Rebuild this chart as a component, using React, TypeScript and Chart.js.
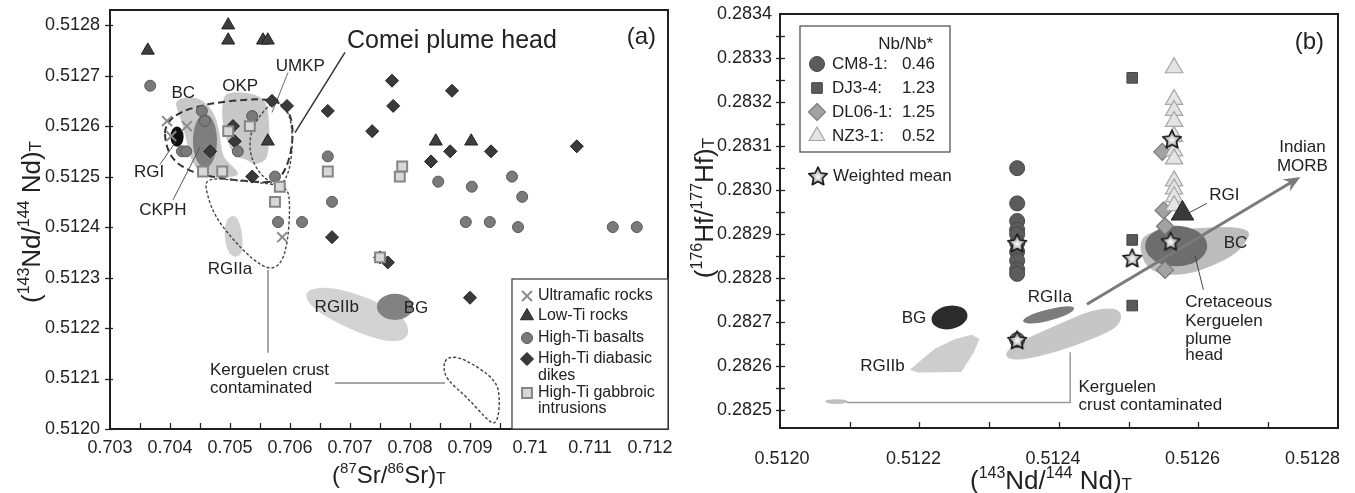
import React, { useEffect, useRef } from 'react';
import { Chart, registerables } from 'chart.js';
Chart.register(...registerables);

const FONT = '"Liberation Sans", Arial, Helvetica, sans-serif';
const INK = '#222222';
Chart.defaults.font.family = FONT;

// ---------------- Panel (a): axes ----------------
const A_X_MIN = 0.703;
const A_X_MAX = 0.7123;
const A_Y_MIN = 0.512;
const A_Y_MAX = 0.51283;
const A_X_TICKS = [0.703, 0.704, 0.705, 0.706, 0.707, 0.708, 0.709, 0.71, 0.711, 0.712];
const A_X_TICK_LABELS = ['0.703', '0.704', '0.705', '0.706', '0.707', '0.708', '0.709', '0.71', '0.711', '0.712'];
const A_X_TICK_MARKS = [0.7035, 0.704, 0.7045, 0.705, 0.7055, 0.706, 0.7065, 0.707, 0.7075, 0.708, 0.7085, 0.709, 0.7095, 0.71, 0.7105, 0.711, 0.7115, 0.712];
const A_Y_TICKS = [0.512, 0.5121, 0.5122, 0.5123, 0.5124, 0.5125, 0.5126, 0.5127, 0.5128];
const A_Y_TICK_LABELS = ['0.5120', '0.5121', '0.5122', '0.5123', '0.5124', '0.5125', '0.5126', '0.5127', '0.5128'];

// ---------------- Panel (a): data ----------------
const ULTRA_SR = [0.70395, 0.70428, 0.70402, 0.70587];
const ULTRA_ND = [0.51261, 0.5126, 0.51258, 0.51238];
const LOWTI_SR = [0.70363, 0.70497, 0.70497, 0.70555, 0.70563, 0.70563, 0.70843, 0.70902];
const LOWTI_ND = [0.51275, 0.5128, 0.51277, 0.51277, 0.51277, 0.51257, 0.51257, 0.51257];
const BASALT_SR = [0.70367, 0.70453, 0.70458, 0.7042, 0.70427, 0.70513, 0.70537, 0.70575, 0.70663, 0.7067, 0.7058, 0.7062, 0.70847, 0.70903, 0.7097, 0.70987, 0.70893, 0.70933, 0.7098, 0.71138, 0.71178];
const BASALT_ND = [0.51268, 0.51263, 0.51261, 0.51255, 0.51255, 0.51255, 0.51262, 0.5125, 0.51254, 0.51245, 0.51241, 0.51241, 0.51249, 0.51248, 0.5125, 0.51246, 0.51241, 0.51241, 0.5124, 0.5124, 0.5124];
const DIKE_SR = [0.70467, 0.70505, 0.70508, 0.70537, 0.7057, 0.70595, 0.70663, 0.7067, 0.7077, 0.70772, 0.70737, 0.7087, 0.70867, 0.70935, 0.71078, 0.70835, 0.7075, 0.70763, 0.709];
const DIKE_ND = [0.51255, 0.5126, 0.51257, 0.5125, 0.51265, 0.51264, 0.51263, 0.51238, 0.51269, 0.51264, 0.51259, 0.51267, 0.51255, 0.51255, 0.51256, 0.51253, 0.51234, 0.51233, 0.51226];
const GABBRO_SR = [0.70455, 0.70487, 0.70497, 0.70533, 0.70583, 0.70575, 0.70663, 0.70787, 0.70783, 0.7075];
const GABBRO_ND = [0.51251, 0.51251, 0.51259, 0.5126, 0.51248, 0.51245, 0.51251, 0.51252, 0.5125, 0.51234];

// ---------------- Panel (a): fields (data coordinates) ----------------
const A_BC = [[0.704083, 0.512653], [0.70445, 0.512659], [0.70472, 0.512633], [0.704833, 0.512587], [0.704867, 0.51254], [0.70505, 0.51252], [0.705167, 0.512504], [0.705, 0.512498], [0.704617, 0.5125], [0.7045, 0.512508], [0.704367, 0.512528], [0.704283, 0.512567], [0.7042, 0.512607], [0.704117, 0.512633]];
const A_OKP = [[0.704867, 0.512659], [0.70505, 0.512669], [0.70545, 0.512663], [0.705617, 0.512647], [0.705667, 0.512593], [0.705633, 0.51254], [0.70555, 0.512528], [0.705383, 0.512524], [0.705283, 0.512534], [0.70505, 0.51254], [0.704867, 0.5126]];
const A_CKPH_CENTER = [0.704583, 0.512571];
const A_CKPH_RADII = [0.0002, 0.000053];
const A_RGI_CENTER = [0.704117, 0.512579];
const A_RGI_RADII = [0.00011, 0.00002];
const A_BG_CENTER = [0.70775, 0.512242];
const A_BG_RADII = [0.0003, 0.000026];
const A_COMEI = [[0.703917, 0.512603], [0.704167, 0.512629], [0.704667, 0.512645], [0.70525, 0.512653], [0.7057, 0.512653], [0.70595, 0.512637], [0.70605, 0.512603], [0.706033, 0.512554], [0.705917, 0.51251], [0.70575, 0.512488], [0.705333, 0.51249], [0.70475, 0.512498], [0.704333, 0.51251], [0.704033, 0.512534], [0.703917, 0.512569]];
const A_UMKP = [[0.7057, 0.512647], [0.705467, 0.512617], [0.705333, 0.512583], [0.705333, 0.512544], [0.705467, 0.51251], [0.705667, 0.512488], [0.705867, 0.512482], [0.706, 0.512514], [0.70605, 0.512573], [0.706, 0.512623], [0.705833, 0.512647]];
const A_KCRUST = [[0.704583, 0.512498], [0.704617, 0.512464], [0.70475, 0.512421], [0.70505, 0.512375], [0.705383, 0.512335], [0.705667, 0.512315], [0.705867, 0.512329], [0.705967, 0.512375], [0.706, 0.51244], [0.705967, 0.512478], [0.705667, 0.512486], [0.705167, 0.512492]];
const A_RGIIA = [[0.704933, 0.512417], [0.7051, 0.512425], [0.7052, 0.512395], [0.705217, 0.512355], [0.705133, 0.512339], [0.704983, 0.512345], [0.7049, 0.512379]];
const A_RGIIB = [[0.70625, 0.512276], [0.706667, 0.512282], [0.707333, 0.51226], [0.707917, 0.51222], [0.708, 0.512187], [0.7078, 0.512171], [0.707333, 0.512181], [0.70675, 0.512212], [0.7063, 0.512246]];
const A_RIGHT_LOOP = [[0.708617, 0.512143], [0.708883, 0.512141], [0.70945, 0.512097], [0.7095, 0.512052], [0.70945, 0.512012], [0.709333, 0.512012], [0.70895, 0.512063], [0.708617, 0.512097], [0.70855, 0.512123]];
const A_LEAD_COMEI = [[0.706917, 0.512746], [0.706083, 0.512587]];
const A_LEAD_UMKP = [[0.705967, 0.512706], [0.7057, 0.512627]];
const A_LEAD_RGI = [[0.703833, 0.512524], [0.704083, 0.512567]];
const A_LEAD_CKPH = [[0.70405, 0.512454], [0.7045, 0.512558]];
const A_LEAD_KV = [[0.705633, 0.512315], [0.705633, 0.512151]];
const A_LEAD_KH = [[0.70675, 0.512091], [0.708583, 0.512091]];

// ---------------- Panel (b): axes ----------------
const B_X_MIN = 0.512;
const B_X_MAX = 0.5128;
const B_Y_MIN = 0.28246;
const B_Y_MAX = 0.2834;
const B_X_TICKS = [0.512, 0.5122, 0.5124, 0.5126, 0.5128];
const B_X_TICK_LABELS = ['0.5120', '0.5122', '0.5124', '0.5126', '0.5128'];
const B_X_TICK_MARKS = [0.5121, 0.5122, 0.5123, 0.5124, 0.5125, 0.5126, 0.5127];
const B_Y_TICKS = [0.2825, 0.2826, 0.2827, 0.2828, 0.2829, 0.283, 0.2831, 0.2832, 0.2833, 0.2834];
const B_Y_TICK_LABELS = ['0.2825', '0.2826', '0.2827', '0.2828', '0.2829', '0.2830', '0.2831', '0.2832', '0.2833', '0.2834'];
const B_Y_TICK_MARKS = [0.2825, 0.28255, 0.2826, 0.28265, 0.2827, 0.28275, 0.2828, 0.28285, 0.2829, 0.28295, 0.283, 0.28305, 0.2831, 0.28315, 0.2832, 0.28325, 0.2833, 0.28335];

// ---------------- Panel (b): data ----------------
const CM81_ND = [0.51234, 0.51234, 0.51234, 0.51234, 0.51234, 0.51234, 0.51234, 0.51234, 0.51234, 0.51234, 0.51234];
const CM81_HF = [0.28305, 0.28297, 0.28293, 0.28291, 0.2829, 0.28288, 0.28286, 0.28284, 0.28282, 0.28281, 0.28266];
const DJ34_ND = [0.512505, 0.512505, 0.512505];
const DJ34_HF = [0.283255, 0.282887, 0.282738];
const DL061_ND = [0.512548, 0.51255, 0.512552, 0.512552];
const DL061_HF = [0.283087, 0.282954, 0.282918, 0.282819];
const NZ31_ND = [0.512565, 0.512565, 0.512565, 0.512565, 0.512565, 0.512565, 0.512565, 0.512565, 0.512565, 0.512565, 0.512565];
const NZ31_HF = [0.283278, 0.283206, 0.283181, 0.283156, 0.283122, 0.283089, 0.283071, 0.283021, 0.283003, 0.282985, 0.282965];
const MEAN_ND = [0.51234, 0.51234, 0.512505, 0.51256, 0.512562];
const MEAN_HF = [0.28288, 0.28266, 0.282846, 0.282884, 0.283116];
const RGI_B_ND = [0.512577];
const RGI_B_HF = [0.282947];

// ---------------- Panel (b): fields ----------------
const B_BG_CENTER = [0.512243, 0.282711];
const B_BG_RADII = [0.000026, 0.0000265];
const B_RGIIB = [[0.512186, 0.282592], [0.512222, 0.28264], [0.512251, 0.282662], [0.512275, 0.282672], [0.512286, 0.282662], [0.512278, 0.282632], [0.51226, 0.282587], [0.512198, 0.282586]];
const B_RGIIA = [[0.512344, 0.2827], [0.512359, 0.282719], [0.512395, 0.282734], [0.512421, 0.282738], [0.512422, 0.282726], [0.512401, 0.282709], [0.512365, 0.282696]];
const B_CRUST = [[0.512323, 0.282632], [0.512341, 0.282655], [0.512395, 0.282692], [0.512443, 0.282726], [0.512479, 0.282734], [0.512491, 0.282719], [0.512485, 0.282689], [0.512449, 0.282662], [0.512395, 0.282632], [0.512347, 0.282614], [0.512326, 0.282617]];
const B_SMALL_CENTER = [0.512081, 0.28252];
const B_SMALL_RADII = [0.000016, 0.0000055];
const B_BC = [[0.512519, 0.282896], [0.512545, 0.282911], [0.512593, 0.282913], [0.512641, 0.282918], [0.51267, 0.282911], [0.512674, 0.282896], [0.512656, 0.282857], [0.512621, 0.282828], [0.512584, 0.282808], [0.512545, 0.282808], [0.512524, 0.282828], [0.512516, 0.282864]];
const B_CKPH_CENTER = [0.512568, 0.282873];
const B_CKPH_RADII = [0.0000445, 0.000046];
const B_ARROW = [[0.51244, 0.282741], [0.512746, 0.28303]];
const B_LEAD_CRUST = [[0.512096, 0.282518], [0.512416, 0.282518], [0.512416, 0.282632]];
const B_LEAD_RGI = [[0.512612, 0.28297], [0.512588, 0.28295]];
const B_LEAD_CKPH = [[0.512595, 0.282851], [0.512607, 0.282774]];

// ---------------- helpers ----------------
const pts = (xs: number[], ys: number[]) => xs.map((x, i) => ({ x, y: ys[i] }));
const toPx = (c: any, d: number[]) => [c.scales.x.getPixelForValue(d[0]), c.scales.y.getPixelForValue(d[1])];

function smoothClosed(ctx: CanvasRenderingContext2D, p: number[][]) {
  const n = p.length;
  const m = (a: number[], b: number[]) => [(a[0] + b[0]) / 2, (a[1] + b[1]) / 2];
  const s = m(p[n - 1], p[0]);
  ctx.moveTo(s[0], s[1]);
  for (let i = 0; i < n; i++) {
    const e = m(p[i], p[(i + 1) % n]);
    ctx.quadraticCurveTo(p[i][0], p[i][1], e[0], e[1]);
  }
  ctx.closePath();
}

function shape(c: any, data: number[][], fill: string | null, stroke?: string, lw = 1.5, dash: number[] = [], smooth = true) {
  const ctx = c.ctx;
  const p = data.map((d) => toPx(c, d));
  ctx.save();
  ctx.beginPath();
  if (smooth) smoothClosed(ctx, p);
  else {
    p.forEach((q, i) => (i ? ctx.lineTo(q[0], q[1]) : ctx.moveTo(q[0], q[1])));
    ctx.closePath();
  }
  if (fill) {
    ctx.fillStyle = fill;
    ctx.fill();
  }
  if (stroke) {
    ctx.setLineDash(dash);
    ctx.lineWidth = lw;
    ctx.strokeStyle = stroke;
    ctx.lineJoin = 'round';
    ctx.stroke();
  }
  ctx.restore();
}

function ellipse(c: any, center: number[], radii: number[], rotDeg: number, fill: string) {
  const ctx = c.ctx;
  const [cx, cy] = toPx(c, center);
  const rx = Math.abs(c.scales.x.getPixelForValue(center[0] + radii[0]) - cx);
  const ry = Math.abs(c.scales.y.getPixelForValue(center[1] + radii[1]) - cy);
  ctx.save();
  ctx.beginPath();
  ctx.ellipse(cx, cy, rx, ry, (rotDeg * Math.PI) / 180, 0, Math.PI * 2);
  ctx.fillStyle = fill;
  ctx.fill();
  ctx.restore();
}

function polyline(c: any, data: number[][], color: string, lw: number) {
  const ctx = c.ctx;
  ctx.save();
  ctx.beginPath();
  data.forEach((d, i) => {
    const [x, y] = toPx(c, d);
    if (i) ctx.lineTo(x, y);
    else ctx.moveTo(x, y);
  });
  ctx.lineWidth = lw;
  ctx.strokeStyle = color;
  ctx.stroke();
  ctx.restore();
}

function label(c: any, str: string, pos: number[], size: number, align: CanvasTextAlign = 'center') {
  const ctx = c.ctx;
  const [x, y] = toPx(c, pos);
  ctx.save();
  ctx.font = `${size}px ${FONT}`;
  ctx.fillStyle = INK;
  ctx.textAlign = align;
  ctx.textBaseline = 'middle';
  ctx.fillText(str, x, y);
  ctx.restore();
}

type Part = { t: string; s: number; dy?: number };
function rich(ctx: CanvasRenderingContext2D, parts: Part[], x: number, y: number, rotate: boolean) {
  ctx.save();
  ctx.translate(x, y);
  if (rotate) ctx.rotate(-Math.PI / 2);
  let w = 0;
  parts.forEach((p) => {
    ctx.font = `${p.s}px ${FONT}`;
    w += ctx.measureText(p.t).width;
  });
  let cx = -w / 2;
  ctx.fillStyle = INK;
  ctx.textAlign = 'left';
  ctx.textBaseline = 'alphabetic';
  parts.forEach((p) => {
    ctx.font = `${p.s}px ${FONT}`;
    ctx.fillText(p.t, cx, p.dy || 0);
    cx += ctx.measureText(p.t).width;
  });
  ctx.restore();
}

function marker(ctx: CanvasRenderingContext2D, style: any, x: number, y: number, r: number, fill: string, stroke: string, lw: number) {
  if (typeof style !== 'string') {
    ctx.drawImage(style, x - style.width / 2, y - style.height / 2);
    return;
  }
  ctx.save();
  ctx.beginPath();
  if (style === 'circle') ctx.arc(x, y, r, 0, Math.PI * 2);
  else if (style === 'triangle') {
    ctx.moveTo(x, y - r);
    ctx.lineTo(x + r * 0.866, y + r * 0.5);
    ctx.lineTo(x - r * 0.866, y + r * 0.5);
    ctx.closePath();
  } else if (style === 'rectRot') {
    ctx.moveTo(x, y - r);
    ctx.lineTo(x + r, y);
    ctx.lineTo(x, y + r);
    ctx.lineTo(x - r, y);
    ctx.closePath();
  } else if (style === 'rect') {
    const s = r * Math.SQRT1_2;
    ctx.rect(x - s, y - s, 2 * s, 2 * s);
  } else if (style === 'crossRot') {
    const s = r * Math.SQRT1_2;
    ctx.moveTo(x - s, y - s);
    ctx.lineTo(x + s, y + s);
    ctx.moveTo(x + s, y - s);
    ctx.lineTo(x - s, y + s);
  }
  if (style !== 'crossRot') {
    ctx.fillStyle = fill;
    ctx.fill();
  }
  ctx.lineWidth = lw;
  ctx.strokeStyle = stroke;
  ctx.stroke();
  ctx.restore();
}

function makeStar(size: number) {
  const cv = document.createElement('canvas');
  cv.width = size;
  cv.height = size;
  const g = cv.getContext('2d')!;
  const cx = size / 2;
  const cy = size / 2 + 0.8;
  const R = size / 2 - 1.2;
  const r = R * 0.48;
  g.beginPath();
  for (let i = 0; i < 10; i++) {
    const a = -Math.PI / 2 + (i * Math.PI) / 5;
    const rr = i % 2 === 0 ? R : r;
    const px = cx + Math.cos(a) * rr;
    const py = cy + Math.sin(a) * rr;
    if (i) g.lineTo(px, py);
    else g.moveTo(px, py);
  }
  g.closePath();
  const grad = g.createRadialGradient(cx, cy, 0, cx, cy, R);
  grad.addColorStop(0, '#ffffff');
  grad.addColorStop(0.45, '#c4c4c4');
  grad.addColorStop(1, '#5c5c5c');
  g.fillStyle = grad;
  g.fill();
  g.lineWidth = 1.6;
  g.strokeStyle = '#1a1a1a';
  g.lineJoin = 'round';
  g.stroke();
  return cv;
}

function frameAndTicks(c: any, xMarks: number[], yMarks: number[], yIn: number, yOut: number) {
  const ctx = c.ctx;
  const ca = c.chartArea;
  ctx.save();
  ctx.strokeStyle = '#262626';
  ctx.lineWidth = 1.3;
  xMarks.forEach((v) => {
    const x = Math.round(c.scales.x.getPixelForValue(v)) + 0.5;
    ctx.beginPath();
    ctx.moveTo(x, ca.bottom);
    ctx.lineTo(x, ca.bottom - 6);
    ctx.stroke();
  });
  yMarks.forEach((v) => {
    const y = Math.round(c.scales.y.getPixelForValue(v)) + 0.5;
    ctx.beginPath();
    ctx.moveTo(ca.left - yOut, y);
    ctx.lineTo(ca.left + yIn, y);
    ctx.stroke();
  });
  ctx.lineWidth = 2;
  ctx.strokeStyle = '#1f1f1f';
  ctx.strokeRect(ca.left, ca.top, ca.right - ca.left, ca.bottom - ca.top);
  ctx.restore();
}

function clipArea(c: any) {
  const ca = c.chartArea;
  c.ctx.beginPath();
  c.ctx.rect(ca.left, ca.top, ca.right - ca.left, ca.bottom - ca.top);
  c.ctx.clip();
}

const tickLabel = (ticks: number[], labels: string[]) => (v: any) => {
  let best = 0;
  ticks.forEach((t, i) => {
    if (Math.abs(t - v) < Math.abs(ticks[best] - v)) best = i;
  });
  return labels[best];
};

// ---------------- Panel (a) plugin ----------------
const pluginA = {
  id: 'panelA',
  beforeDatasetsDraw(c: any) {
    const ctx = c.ctx;
    ctx.save();
    clipArea(c);
    shape(c, A_BC, '#c8c8c8');
    shape(c, A_OKP, '#c8c8c8');
    shape(c, A_RGIIA, '#d0d0d0');
    shape(c, A_RGIIB, '#d2d2d2');
    ellipse(c, A_CKPH_CENTER, A_CKPH_RADII, 0, '#7e7e7e');
    ellipse(c, A_BG_CENTER, A_BG_RADII, 0, '#828282');
    ellipse(c, A_RGI_CENTER, A_RGI_RADII, 0, '#111111');
    shape(c, A_COMEI, null, '#333333', 2, [7, 4]);
    shape(c, A_UMKP, null, '#444444', 1.4, [3, 2]);
    shape(c, A_KCRUST, null, '#444444', 1.4, [3, 2]);
    shape(c, A_RIGHT_LOOP, null, '#444444', 1.4, [3, 2]);
    polyline(c, A_LEAD_COMEI, '#333333', 1.5);
    polyline(c, A_LEAD_UMKP, '#666666', 1);
    polyline(c, A_LEAD_RGI, '#555555', 1);
    polyline(c, A_LEAD_CKPH, '#555555', 1);
    polyline(c, A_LEAD_KV, '#8a8a8a', 1.5);
    polyline(c, A_LEAD_KH, '#8a8a8a', 1.5);
    ctx.restore();
  },
  afterDatasetsDraw(c: any) {
    const ctx = c.ctx;
    const ca = c.chartArea;
    frameAndTicks(c, A_X_TICK_MARKS, A_Y_TICKS, 3, 5);
    label(c, 'Comei plume head', [0.70695, 0.512768], 25, 'left');
    label(c, '(a)', [0.7121, 0.512776], 24, 'right');
    label(c, 'BC', [0.70422, 0.512665], 17);
    label(c, 'OKP', [0.70517, 0.512679], 17);
    label(c, 'UMKP', [0.70617, 0.512718], 17);
    label(c, 'RGI', [0.70365, 0.512508], 17);
    label(c, 'CKPH', [0.70388, 0.512433], 17);
    label(c, 'RGIIa', [0.705, 0.512317], 17);
    label(c, 'RGIIb', [0.70678, 0.512242], 17);
    label(c, 'BG', [0.7081, 0.51224], 17);
    label(c, 'Kerguelen crust', [0.704667, 0.512117], 17, 'left');
    label(c, 'contaminated', [0.704667, 0.512081], 17, 'left');

    // legend
    const bx = ca.right - 156;
    const by = ca.bottom - 150;
    ctx.save();
    ctx.fillStyle = '#ffffff';
    ctx.fillRect(bx, by, 156, 150);
    ctx.lineWidth = 1.3;
    ctx.strokeStyle = '#444444';
    ctx.strokeRect(bx, by, 156, 150);
    const rows = [
      { ds: 4, lines: ['Ultramafic rocks'], y: [17] },
      { ds: 3, lines: ['Low-Ti rocks'], y: [37] },
      { ds: 1, lines: ['High-Ti basalts'], y: [59] },
      { ds: 2, lines: ['High-Ti diabasic', 'dikes'], y: [80, 97] },
      { ds: 0, lines: ['High-Ti gabbroic', 'intrusions'], y: [114, 130] },
    ];
    ctx.font = `16px ${FONT}`;
    ctx.textBaseline = 'middle';
    ctx.textAlign = 'left';
    rows.forEach((r) => {
      const d: any = c.data.datasets[r.ds];
      marker(ctx, d.pointStyle, bx + 15, by + r.y[0], d.pointRadius, d.backgroundColor, d.borderColor, d.borderWidth);
      ctx.fillStyle = INK;
      r.lines.forEach((t, i) => ctx.fillText(t, bx + 26, by + r.y[i]));
    });
    ctx.restore();

    rich(ctx, [{ t: '(', s: 26 }, { t: '143', s: 16, dy: -11 }, { t: 'Nd/', s: 26 }, { t: '144', s: 16, dy: -11 }, { t: ' Nd)', s: 26 }, { t: 'T', s: 17, dy: 1 }], 40, 222, true);
    rich(ctx, [{ t: '(', s: 24 }, { t: '87', s: 15, dy: -10 }, { t: 'Sr/', s: 24 }, { t: '86', s: 15, dy: -10 }, { t: 'Sr)', s: 24 }, { t: 'T', s: 16, dy: 1 }], (ca.left + ca.right) / 2, 483, false);
  },
};

// ---------------- Panel (b) plugin ----------------
const pluginB = {
  id: 'panelB',
  beforeDatasetsDraw(c: any) {
    const ctx = c.ctx;
    ctx.save();
    clipArea(c);
    shape(c, B_CRUST, '#c6c6c6');
    shape(c, B_RGIIB, '#cdcdcd', undefined, 1.5, [], false);
    shape(c, B_RGIIA, '#7c7c7c');
    ellipse(c, B_SMALL_CENTER, B_SMALL_RADII, 0, '#bdbdbd');
    ellipse(c, B_BG_CENTER, B_BG_RADII, -10, '#2b2b2b');
    shape(c, B_BC, '#bcbcbc');
    ellipse(c, B_CKPH_CENTER, B_CKPH_RADII, 0, '#6d6d6d');
    polyline(c, B_LEAD_CRUST, '#9a9a9a', 1.5);
    polyline(c, B_LEAD_CKPH, '#444444', 1);
    polyline(c, B_LEAD_RGI, '#444444', 1);
    // arrow to Indian MORB
    const [x0, y0] = toPx(c, B_ARROW[0]);
    const [x1, y1] = toPx(c, B_ARROW[1]);
    const ang = Math.atan2(y1 - y0, x1 - x0);
    ctx.strokeStyle = '#7a7a7a';
    ctx.fillStyle = '#7a7a7a';
    ctx.lineWidth = 3;
    ctx.beginPath();
    ctx.moveTo(x0, y0);
    ctx.lineTo(x1 - Math.cos(ang) * 8, y1 - Math.sin(ang) * 8);
    ctx.stroke();
    ctx.beginPath();
    ctx.moveTo(x1, y1);
    ctx.lineTo(x1 - Math.cos(ang - 0.4) * 18, y1 - Math.sin(ang - 0.4) * 18);
    ctx.lineTo(x1 - Math.cos(ang) * 11, y1 - Math.sin(ang) * 11);
    ctx.lineTo(x1 - Math.cos(ang + 0.4) * 18, y1 - Math.sin(ang + 0.4) * 18);
    ctx.closePath();
    ctx.fill();
    ctx.restore();
  },
  afterDatasetsDraw(c: any) {
    const ctx = c.ctx;
    const ca = c.chartArea;
    frameAndTicks(c, B_X_TICK_MARKS, B_Y_TICK_MARKS, 5, 4);

    // x tick labels (last one kept inside the page)
    ctx.save();
    ctx.font = `18px ${FONT}`;
    ctx.fillStyle = INK;
    ctx.textBaseline = 'alphabetic';
    ctx.textAlign = 'left';
    B_X_TICKS.forEach((v, i) => {
      const t = B_X_TICK_LABELS[i];
      const w = ctx.measureText(t).width;
      const cx = c.scales.x.getPixelForValue(v) + (i === 0 ? 2 : -6);
      let left = cx - w / 2;
      if (left + w > c.width - 15) left = c.width - 15 - w;
      ctx.fillText(t, left, 464);
    });
    ctx.restore();

    label(c, '(b)', [0.51278, 0.283336], 24, 'right');
    label(c, 'BC', [0.512653, 0.28288], 17);
    label(c, 'RGI', [0.512637, 0.282988], 17);
    label(c, 'RGIIa', [0.512387, 0.282756], 17);
    label(c, 'BG', [0.512192, 0.282708], 17);
    label(c, 'RGIIb', [0.512147, 0.2826], 17);
    label(c, 'Kerguelen', [0.512428, 0.282553], 17, 'left');
    label(c, 'crust contaminated', [0.512428, 0.282512], 17, 'left');
    label(c, 'Cretaceous', [0.512581, 0.282745], 17, 'left');
    label(c, 'Kerguelen', [0.512581, 0.282702], 17, 'left');
    label(c, 'plume', [0.512581, 0.282662], 17, 'left');
    label(c, 'head', [0.512581, 0.282625], 17, 'left');
    label(c, 'Indian', [0.512749, 0.283098], 17);
    label(c, 'MORB', [0.512749, 0.283055], 17);

    // legend
    const bx = ca.left + 20;
    const by = ca.top + 12;
    ctx.save();
    ctx.fillStyle = '#ffffff';
    ctx.fillRect(bx, by, 150, 126);
    ctx.lineWidth = 1.3;
    ctx.strokeStyle = '#555555';
    ctx.strokeRect(bx, by, 150, 126);
    ctx.font = `17px ${FONT}`;
    ctx.textBaseline = 'middle';
    ctx.fillStyle = INK;
    ctx.textAlign = 'right';
    ctx.fillText('Nb/Nb*', bx + 133, by + 18);
    const rows = [
      { ds: 5, name: 'CM8-1:', val: '0.46', y: 38 },
      { ds: 4, name: 'DJ3-4:', val: '1.23', y: 62 },
      { ds: 3, name: 'DL06-1:', val: '1.25', y: 86 },
      { ds: 2, name: 'NZ3-1:', val: '0.52', y: 110 },
    ];
    rows.forEach((r) => {
      const d: any = c.data.datasets[r.ds];
      const rad = d.pointStyle === 'triangle' ? 9 : d.pointRadius;
      marker(ctx, d.pointStyle, bx + 17, by + r.y, rad, d.backgroundColor, d.borderColor, d.borderWidth);
      ctx.fillStyle = INK;
      ctx.textAlign = 'left';
      ctx.fillText(r.name, bx + 32, by + r.y);
      ctx.textAlign = 'right';
      ctx.fillText(r.val, bx + 135, by + r.y);
    });
    const star: any = c.data.datasets[0].pointStyle;
    marker(ctx, star, bx + 18, ca.top + 162, 0, '', '', 0);
    ctx.fillStyle = INK;
    ctx.textAlign = 'left';
    ctx.fillText('Weighted mean', bx + 33, ca.top + 162);
    ctx.restore();

    rich(ctx, [{ t: '(', s: 26 }, { t: '176', s: 16, dy: -11 }, { t: 'Hf/', s: 26 }, { t: '177', s: 16, dy: -11 }, { t: 'Hf)', s: 26 }, { t: 'T', s: 17, dy: 1 }], 33, 208, true);
    rich(ctx, [{ t: '(', s: 26 }, { t: '143', s: 16, dy: -11 }, { t: 'Nd/', s: 26 }, { t: '144', s: 16, dy: -11 }, { t: ' Nd)', s: 26 }, { t: 'T', s: 17, dy: 1 }], (ca.left + ca.right) / 2 - 8, 489, false);
  },
};

const tickFont = { family: FONT, size: 18 };

function configA() {
  return {
    type: 'scatter',
    data: {
      datasets: [
        { label: 'High-Ti gabbroic intrusions', data: pts(GABBRO_SR, GABBRO_ND), pointStyle: 'rect', pointRadius: 7, backgroundColor: '#d8d8d8', borderColor: '#858585', borderWidth: 2 },
        { label: 'High-Ti basalts', data: pts(BASALT_SR, BASALT_ND), pointStyle: 'circle', pointRadius: 5.5, backgroundColor: '#7a7a7a', borderColor: '#585858', borderWidth: 1 },
        { label: 'High-Ti diabasic dikes', data: pts(DIKE_SR, DIKE_ND), pointStyle: 'rectRot', pointRadius: 6.5, backgroundColor: '#3a3a3a', borderColor: '#222222', borderWidth: 1 },
        { label: 'Low-Ti rocks', data: pts(LOWTI_SR, LOWTI_ND), pointStyle: 'triangle', pointRadius: 7.5, backgroundColor: '#3e3e3e', borderColor: '#222222', borderWidth: 1 },
        { label: 'Ultramafic rocks', data: pts(ULTRA_SR, ULTRA_ND), pointStyle: 'crossRot', pointRadius: 7, backgroundColor: '#8c8c8c', borderColor: '#8c8c8c', borderWidth: 2 },
      ],
    },
    options: {
      responsive: false,
      animation: false,
      devicePixelRatio: 1,
      layout: { padding: { left: 0, right: 12, top: 10, bottom: 0 } },
      plugins: { legend: { display: false }, tooltip: { enabled: false } },
      scales: {
        x: {
          type: 'linear',
          min: A_X_MIN,
          max: A_X_MAX,
          afterBuildTicks: (s: any) => { s.ticks = A_X_TICKS.map((v) => ({ value: v })); },
          afterFit: (s: any) => { s.height = 64; s.paddingLeft = 0; s.paddingRight = 0; },
          grid: { display: false, drawTicks: false },
          border: { display: false },
          ticks: { callback: tickLabel(A_X_TICKS, A_X_TICK_LABELS), font: tickFont, color: INK, padding: 8, maxRotation: 0, minRotation: 0, autoSkip: false },
        },
        y: {
          type: 'linear',
          min: A_Y_MIN,
          max: A_Y_MAX,
          afterBuildTicks: (s: any) => { s.ticks = A_Y_TICKS.map((v) => ({ value: v })); },
          afterFit: (s: any) => { s.width = 110; s.paddingTop = 0; s.paddingBottom = 0; },
          grid: { display: false, drawTicks: false },
          border: { display: false },
          ticks: { callback: tickLabel(A_Y_TICKS, A_Y_TICK_LABELS), font: tickFont, color: INK, padding: 10, autoSkip: false },
        },
      },
    },
    plugins: [pluginA],
  } as any;
}

function configB(star: HTMLCanvasElement) {
  return {
    type: 'scatter',
    data: {
      datasets: [
        { label: 'Weighted mean', data: pts(MEAN_ND, MEAN_HF), pointStyle: star, pointRadius: 11, backgroundColor: '#cccccc', borderColor: '#222222', borderWidth: 1 },
        { label: 'RGI', data: pts(RGI_B_ND, RGI_B_HF), pointStyle: 'triangle', pointRadius: 13, backgroundColor: '#3a3a3a', borderColor: '#222222', borderWidth: 1 },
        { label: 'NZ3-1', data: pts(NZ31_ND, NZ31_HF), pointStyle: 'triangle', pointRadius: 10, backgroundColor: '#e4e4e4', borderColor: '#a6a6a6', borderWidth: 1.2 },
        { label: 'DL06-1', data: pts(DL061_ND, DL061_HF), pointStyle: 'rectRot', pointRadius: 8.5, backgroundColor: '#a2a2a2', borderColor: '#787878', borderWidth: 1.2 },
        { label: 'DJ3-4', data: pts(DJ34_ND, DJ34_HF), pointStyle: 'rect', pointRadius: 7.5, backgroundColor: '#5a5a5a', borderColor: '#444444', borderWidth: 1 },
        { label: 'CM8-1', data: pts(CM81_ND, CM81_HF), pointStyle: 'circle', pointRadius: 7.5, backgroundColor: '#5c5c5c', borderColor: '#484848', borderWidth: 1 },
      ],
    },
    options: {
      responsive: false,
      animation: false,
      devicePixelRatio: 1,
      layout: { padding: { left: 0, right: 17, top: 10, bottom: 0 } },
      plugins: { legend: { display: false }, tooltip: { enabled: false } },
      scales: {
        x: {
          type: 'linear',
          min: B_X_MIN,
          max: B_X_MAX,
          afterBuildTicks: (s: any) => { s.ticks = B_X_TICKS.map((v) => ({ value: v })); },
          afterFit: (s: any) => { s.height = 65; s.paddingLeft = 0; s.paddingRight = 0; },
          grid: { display: false, drawTicks: false },
          border: { display: false },
          ticks: { display: false, callback: tickLabel(B_X_TICKS, B_X_TICK_LABELS), font: tickFont },
        },
        y: {
          type: 'linear',
          min: B_Y_MIN,
          max: B_Y_MAX,
          afterBuildTicks: (s: any) => { s.ticks = B_Y_TICKS.map((v) => ({ value: v })); },
          afterFit: (s: any) => { s.width = 100; s.paddingTop = 0; s.paddingBottom = 0; },
          grid: { display: false, drawTicks: false },
          border: { display: false },
          ticks: { callback: tickLabel(B_Y_TICKS, B_Y_TICK_LABELS), font: tickFont, color: INK, padding: 8, autoSkip: false },
        },
      },
    },
    plugins: [pluginB],
  } as any;
}

export default function App() {
  const refA = useRef<HTMLCanvasElement>(null);
  const refB = useRef<HTMLCanvasElement>(null);
  useEffect(() => {
    const star = makeStar(22);
    const a = new Chart(refA.current!, configA());
    const b = new Chart(refB.current!, configB(star));
    return () => {
      a.destroy();
      b.destroy();
    };
  }, []);
  return (
    <div style={{ position: 'absolute', left: 0, top: 0, width: 1355, height: 493, background: '#ffffff', overflow: 'hidden' }}>
      <canvas ref={refA} width={680} height={493} style={{ position: 'absolute', left: 0, top: 0, width: 680, height: 493 }} />
      <canvas ref={refB} width={675} height={493} style={{ position: 'absolute', left: 680, top: 0, width: 675, height: 493 }} />
    </div>
  );
}
